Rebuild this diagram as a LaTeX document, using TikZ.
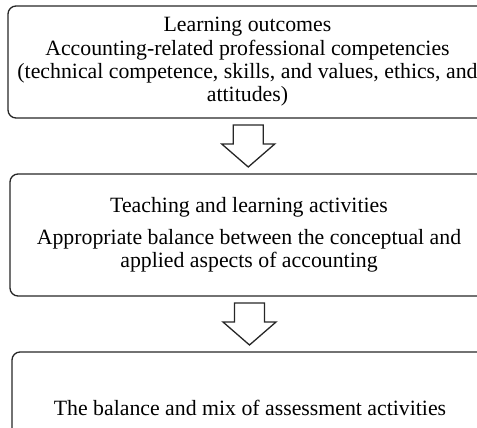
\documentclass[tikz,border=0pt]{standalone}
\usepackage{fontspec}
\setmainfont{Liberation Serif}
\usetikzlibrary{calc}

\tikzset{
  stagebox/.style={draw=black!85, line width=0.65pt, rounded corners=4pt,
    align=center, inner sep=0pt, font=\fontsize{10.9}{11.7}\selectfont},
  hollowarrow/.style={draw=black!85, line width=0.65pt, line join=miter}
}

\begin{document}
\begin{tikzpicture}[x=0.5pt,y=-0.5pt]
	\useasboundingbox (0,0) rectangle (477,428);
	\clip (0,0) rectangle (477,428);
	% the three stages
	\node[stagebox, minimum width=239.5pt, minimum height=56pt] (outcomes) at (247.5,62)
		{Learning outcomes\\Accounting-related professional competencies\\(technical competence, skills, and values, ethics, and\\attitudes)};
	\node[stagebox, minimum width=239pt, minimum height=61pt] (teaching) at (249,235)
		{Teaching and learning activities\\[4pt]Appropriate balance between the conceptual and\\applied aspects of accounting};
	\node[stagebox, minimum width=238pt, minimum height=56pt] (assessment) at (250,408)
		{The balance and mix of assessment activities};
	% hollow arrows between them
	\foreach \from/\to/\name in {outcomes/teaching/arrowA, teaching/assessment/arrowB} {
		\coordinate (\name) at ($(\from.south)!0.5!(\to.north)$);
		\draw[hollowarrow] ($(\name)+(-15,-21)$) -- ++(30,0) -- ++(0,19) -- ++(11.5,0)
			-- ($(\name)+(0,21)$) -- ($(\name)+(-26.5,-2)$) -- ++(11.5,0) -- cycle;
	}
\end{tikzpicture}
\end{document}
